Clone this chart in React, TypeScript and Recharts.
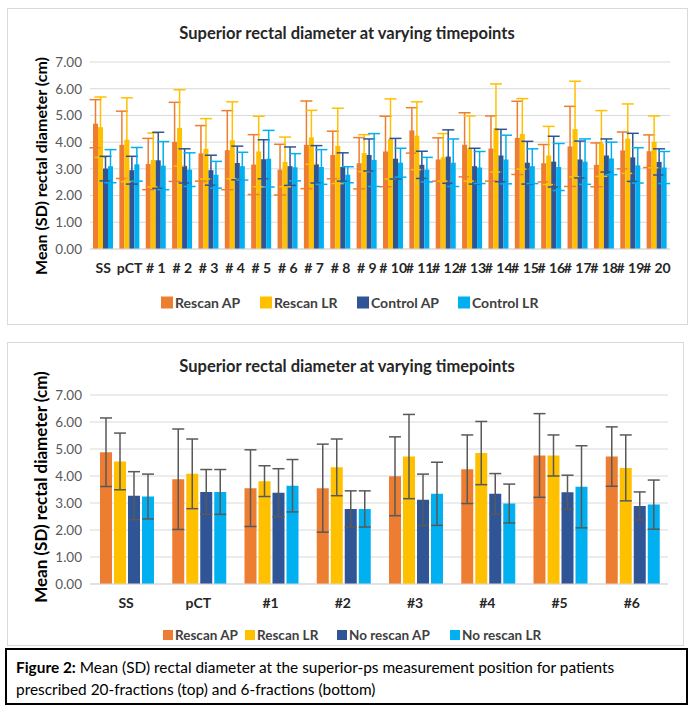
import React from 'react'
import { BarChart, Bar, XAxis, YAxis, CartesianGrid, ErrorBar } from 'recharts'

// 20-fraction patients (top chart)
const topCategories = ['SS', 'pCT', '# 1', '# 2', '# 3', '# 4', '# 5', '# 6', '# 7', '# 8', '# 9', '# 10', '# 11', '# 12', '# 13', '# 14', '# 15', '# 16', '# 17', '# 18', '# 19', '# 20']
const topRescanAP = [4.69, 3.9, 3.18, 4.01, 3.58, 3.7, 3.16, 2.97, 3.9, 3.52, 3.21, 3.65, 4.44, 3.35, 3.9, 3.76, 4.16, 3.21, 3.84, 3.15, 3.69, 3.66]
const topRescanAPSD = [0.9, 1.26, 0.96, 1.48, 1.04, 1.48, 1.12, 0.95, 1.64, 0.89, 0.96, 1.32, 0.85, 0.81, 1.2, 1.22, 1.37, 0.7, 1.5, 0.82, 0.69, 0.61]
const topRescanLR = [4.56, 4.09, 3.33, 4.53, 3.75, 4.07, 3.65, 3.26, 4.18, 3.86, 3.59, 4.12, 4.24, 3.43, 3.76, 4.53, 4.31, 3.5, 4.49, 3.95, 4.13, 4.01]
const topRescanLRSD = [1.13, 1.57, 1.01, 1.43, 1.13, 1.44, 1.32, 0.93, 1.01, 1.41, 0.69, 1.5, 1.27, 0.89, 1.22, 1.65, 1.32, 1.09, 1.79, 1.23, 1.3, 0.97]
const topControlAP = [3.01, 2.95, 3.32, 3.11, 2.95, 3.22, 3.36, 3.1, 3.17, 3.07, 3.52, 3.38, 3.15, 3.46, 3.1, 3.5, 3.23, 3.27, 3.35, 3.5, 3.43, 3.26]
const topControlAPSD = [0.46, 0.52, 1.05, 0.64, 0.56, 0.63, 0.73, 0.72, 0.7, 0.53, 0.6, 0.76, 0.51, 1.0, 0.67, 0.98, 0.8, 0.95, 0.69, 0.62, 0.9, 0.49]
const topControlLR = [3.1, 3.17, 3.12, 2.97, 2.78, 3.1, 3.38, 3.06, 3.07, 2.78, 3.33, 3.23, 2.97, 3.23, 3.05, 3.35, 3.1, 3.07, 3.27, 3.39, 3.13, 3.05]
const topControlLRSD = [0.62, 0.63, 0.9, 0.63, 0.5, 0.52, 1.06, 0.51, 0.65, 0.3, 0.99, 0.54, 0.46, 0.89, 0.6, 0.91, 0.65, 0.88, 0.85, 0.61, 0.66, 0.6]

// 6-fraction patients (bottom chart)
const bottomCategories = ['SS', 'pCT', '#1', '#2', '#3', '#4', '#5', '#6']
const bottomRescanAP = [4.88, 3.88, 3.55, 3.55, 3.99, 4.25, 4.76, 4.72]
const bottomRescanAPSD = [1.27, 1.86, 1.42, 1.63, 1.46, 1.27, 1.55, 1.1]
const bottomRescanLR = [4.54, 4.08, 3.81, 4.32, 4.72, 4.85, 4.76, 4.3]
const bottomRescanLRSD = [1.05, 1.29, 0.57, 1.05, 1.56, 1.17, 0.76, 1.22]
const bottomNoRescanAP = [3.27, 3.41, 3.38, 2.78, 3.12, 3.34, 3.4, 2.89]
const bottomNoRescanAPSD = [0.89, 0.83, 0.89, 0.67, 0.95, 0.75, 0.63, 0.52]
const bottomNoRescanLR = [3.24, 3.41, 3.64, 2.78, 3.34, 2.98, 3.6, 2.94]
const bottomNoRescanLRSD = [0.83, 0.83, 0.97, 0.67, 1.17, 0.72, 1.52, 0.91]

const yTicks = [0, 1, 2, 3, 4, 5, 6, 7]
const COLORS = ['#ED7D31', '#FFC000', '#2F5597', '#00B0F0']
const FONT = 'Lato, "Open Sans", sans-serif'

const topData = topCategories.map((name, i) => ({
  name,
  s0: topRescanAP[i], e0: topRescanAPSD[i],
  s1: topRescanLR[i], e1: topRescanLRSD[i],
  s2: topControlAP[i], e2: topControlAPSD[i],
  s3: topControlLR[i], e3: topControlLRSD[i],
}))

const bottomData = bottomCategories.map((name, i) => ({
  name,
  s0: bottomRescanAP[i], e0: bottomRescanAPSD[i],
  s1: bottomRescanLR[i], e1: bottomRescanLRSD[i],
  s2: bottomNoRescanAP[i], e2: bottomNoRescanAPSD[i],
  s3: bottomNoRescanLR[i], e3: bottomNoRescanLRSD[i],
}))

const Legend = ({ labels, xs, y, box, size }: { labels: string[]; xs: number[]; y: number; box: number; size: number }) => (
  <>
    {labels.map((l, i) => (
      <div
        key={l}
        style={{
          position: 'absolute', left: xs[i], top: y, transform: 'translateY(-50%)',
          display: 'flex', alignItems: 'center', whiteSpace: 'nowrap',
          fontFamily: FONT, fontWeight: 700, fontSize: size, color: '#404040',
        }}
      >
        <span style={{ width: box, height: box, background: COLORS[i], marginRight: 2, display: 'inline-block' }} />
        {l}
      </div>
    ))}
  </>
)

const Title = ({ y }: { y: number }) => (
  <div style={{
    position: 'absolute', left: 347, top: y, transform: 'translate(-50%,-50%)', whiteSpace: 'nowrap',
    fontFamily: FONT, fontWeight: 700, fontSize: 16.5, color: '#262626',
  }}>
    Superior rectal diameter at varying timepoints
  </div>
)

const YLabel = ({ y, size }: { y: number; size: number }) => (
  <div style={{
    position: 'absolute', left: 40, top: y, transform: 'translate(-50%,-50%) rotate(-90deg)', whiteSpace: 'nowrap',
    fontFamily: FONT, fontWeight: 700, fontSize: size, color: '#000',
  }}>
    Mean (SD) rectal diameter (cm)
  </div>
)

const App = () => {
  return (
    <div style={{ position: 'absolute', left: 0, top: 0, width: 695, height: 717, background: '#fff', overflow: 'hidden' }}>
      {/* top chart */}
      <div style={{ position: 'absolute', left: 7, top: 8, width: 681, height: 317, border: '1px solid #d9d9d9', boxSizing: 'border-box' }} />
      <Title y={33} />
      <YLabel y={166} size={16} />
      <div style={{ position: 'absolute', left: 0, top: 0 }}>
        <BarChart width={695} height={330} data={topData} margin={{ top: 62, right: 25, bottom: 51, left: 30 }}
          barCategoryGap={3} barGap={0}>
          <CartesianGrid vertical={false} stroke="#d9d9d9" strokeWidth={1} />
          <XAxis dataKey="name" interval={0} height={30} tickLine={false} axisLine={{ stroke: '#d9d9d9' }}
            tickMargin={8} tick={{ fill: '#262626', fontSize: 14, fontWeight: 700, fontFamily: FONT }} />
          <YAxis width={60} domain={[0, 7]} ticks={yTicks} allowDataOverflow tickLine={false} axisLine={false}
            tickFormatter={(v: number) => v.toFixed(2)} tick={{ fill: '#595959', fontSize: 13.5, fontFamily: FONT }} />
          {[0, 1, 2, 3].map((k) => (
            <Bar key={k} dataKey={`s${k}`} fill={COLORS[k]} isAnimationActive={false}>
              <ErrorBar dataKey={`e${k}`} width={6} stroke={COLORS[k]} strokeWidth={1.5} direction="y" isAnimationActive={false} />
            </Bar>
          ))}
        </BarChart>
      </div>
      <Legend labels={['Rescan AP', 'Rescan LR', 'Control AP', 'Control LR']} xs={[161, 260, 357, 458]} y={302} box={12} size={14} />

      {/* bottom chart */}
      <div style={{ position: 'absolute', left: 7, top: 342, width: 677, height: 304, border: '1px solid #d9d9d9', boxSizing: 'border-box' }} />
      <Title y={366} />
      <YLabel y={487} size={17} />
      <div style={{ position: 'absolute', left: 0, top: 340 }}>
        <BarChart width={695} height={300} data={bottomData} margin={{ top: 55, right: 27, bottom: 26, left: 30 }}
          barCategoryGap={10} barGap={2}>
          <CartesianGrid vertical={false} stroke="#d9d9d9" strokeWidth={1} />
          <XAxis dataKey="name" interval={0} height={30} tickLine={false} axisLine={{ stroke: '#d9d9d9' }}
            tickMargin={8} tick={{ fill: '#262626', fontSize: 14, fontWeight: 700, fontFamily: FONT }} />
          <YAxis width={60} domain={[0, 7]} ticks={yTicks} allowDataOverflow tickLine={false} axisLine={false}
            tickFormatter={(v: number) => v.toFixed(2)} tick={{ fill: '#595959', fontSize: 13.5, fontFamily: FONT }} />
          {[0, 1, 2, 3].map((k) => (
            <Bar key={k} dataKey={`s${k}`} fill={COLORS[k]} isAnimationActive={false}>
              <ErrorBar dataKey={`e${k}`} width={6} stroke="#595959" strokeWidth={1.5} direction="y" isAnimationActive={false} />
            </Bar>
          ))}
        </BarChart>
      </div>
      <Legend labels={['Rescan AP', 'Rescan LR', 'No rescan AP', 'No rescan LR']} xs={[163, 245, 337, 450]} y={635} box={10} size={13.5} />

      {/* caption */}
      <div style={{
        position: 'absolute', left: 5, top: 648, width: 683, height: 57, border: '2px solid #000', boxSizing: 'border-box',
        padding: '6px 0 0 9px', fontFamily: FONT, fontSize: 15.4, lineHeight: '22px', color: '#000', whiteSpace: 'nowrap',
      }}>
        <b>Figure 2:</b> Mean (SD) rectal diameter at the superior-ps measurement position for patients<br />
        prescribed 20-fractions (top) and 6-fractions (bottom)
      </div>
    </div>
  )
}

export default App
